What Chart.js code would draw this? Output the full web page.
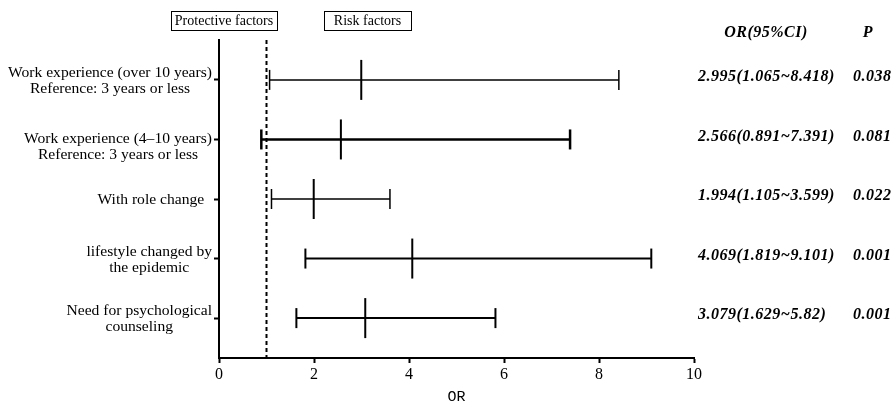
<!DOCTYPE html>
<html lang="en">
<head>
  <meta charset="UTF-8" />
  <title>Forest plot</title>
  <script src="https://cdn.jsdelivr.net/npm/chart.js"></script>
  <style>
    body { margin: 0; background: #fff; }
    canvas { display: block; }
  </style>
</head>
<body>
  <canvas id="grafica" width="893" height="407"></canvas>
  <script>
    // factors, top to bottom
    const factores = [
      ['Work experience (over 10 years)', 'Reference: 3 years or less'],
      ['Work experience (4\u201310 years)', 'Reference: 3 years or less'],
      ['With role change  '],
      ['lifestyle changed by', 'the epidemic'],
      ['Need for psychological', 'counseling']
    ];
    const orValor = [2.995, 2.566, 1.994, 4.069, 3.079];
    const ciBajo = [1.065, 0.891, 1.105, 1.819, 1.629];
    const ciAlto = [8.418, 7.391, 3.599, 9.101, 5.82];
    const textoCI = ['2.995(1.065~8.418)', '2.566(0.891~7.391)', '1.994(1.105~3.599)', '4.069(1.819~9.101)', '3.079(1.629~5.82)'];
    const valorP = ['0.038', '0.081', '0.022', '0.001', '0.001'];
    const ticksX = [0, 2, 4, 6, 8, 10];
    const lineaRef = 1;

    const grosor = [1.5, 2.5, 1.5, 2, 2];
    const serif = "'Liberation Serif', 'Times New Roman', serif";

    const datasets = factores.map((f, i) => ({
      type: 'line',
      data: [{ x: ciBajo[i], y: i + 1 }, { x: ciAlto[i], y: i + 1 }],
      borderColor: '#000',
      borderWidth: grosor[i],
      pointStyle: 'line',
      pointRotation: 90,
      pointRadius: 10,
      pointBorderWidth: grosor[i],
      pointBorderColor: '#000',
      clip: false
    }));
    datasets.push({
      type: 'scatter',
      data: orValor.map((v, i) => ({ x: v, y: i + 1 })),
      pointStyle: 'line',
      pointRotation: 90,
      pointRadius: 20,
      pointBorderWidth: 2,
      borderColor: '#000',
      clip: false
    });

    const textos = {
      id: 'textos',
      afterDraw(chart) {
        const ctx = chart.ctx;
        const x = chart.scales.x, y = chart.scales.y;
        const area = chart.chartArea;
        ctx.save();

        // reference line OR = 1
        ctx.strokeStyle = '#000';
        ctx.lineWidth = 2;
        ctx.setLineDash([4, 3]);
        ctx.beginPath();
        ctx.moveTo(x.getPixelForValue(lineaRef), area.top);
        ctx.lineTo(x.getPixelForValue(lineaRef), area.bottom);
        ctx.stroke();
        ctx.setLineDash([]);

        // left labels
        ctx.fillStyle = '#000';
        ctx.font = '15.6px ' + serif;
        ctx.textBaseline = 'middle';
        ctx.textAlign = 'center';
        factores.forEach((lineas, i) => {
          const py = y.getPixelForValue(i + 1) + (i === 1 ? 7 : 1);
          const ancho = Math.max(...lineas.map(l => ctx.measureText(l).width));
          const cx = area.left - 7 - ancho / 2;
          const alto = 16;
          const y0 = py - (lineas.length - 1) * alto / 2;
          lineas.forEach((l, j) => ctx.fillText(l, cx, y0 + j * alto));
        });

        // header boxes
        ctx.font = '14px ' + serif;
        ctx.lineWidth = 1;
        [['Protective factors', 171, 277], ['Risk factors', 324, 411]].forEach(([t, a, b]) => {
          ctx.strokeRect(a + 0.5, 11.5, b - a, 19);
          ctx.fillText(t, (a + b) / 2, 21);
        });

        // right column
        ctx.font = 'bold italic 16px ' + serif;
        ctx.letterSpacing = '0.5px';
        ctx.fillText('OR(95%CI)', 766, 33);
        ctx.fillText('P', 868, 33);
        ctx.textAlign = 'left';
        textoCI.forEach((t, i) => {
          const py = y.getPixelForValue(i + 1) - 3;
          ctx.fillText(t, 698, py);
          ctx.fillText(valorP[i], 853, py);
        });
        ctx.restore();
      }
    };

    new Chart(document.getElementById('grafica'), {
      data: { datasets },
      options: {
        responsive: false,
        animation: false,
        layout: { padding: { left: 0, top: 40, right: 199, bottom: 0 } },
        plugins: { legend: { display: false }, tooltip: { enabled: false } },
        scales: {
          x: {
            type: 'linear',
            min: 0,
            max: 10,
            afterBuildTicks: s => { s.ticks = ticksX.map(v => ({ value: v })); },
            afterFit: s => { s.height = 49; },
            ticks: { color: '#000', font: { family: serif, size: 16 }, padding: 2 },
            grid: { drawOnChartArea: false, tickLength: 5, tickColor: '#000', tickWidth: 2 },
            border: { color: '#000', width: 2 },
            title: { display: true, text: 'OR', color: '#000', font: { family: "'Liberation Mono', monospace", size: 15 }, padding: { top: 0, bottom: 1 } }
          },
          y: {
            type: 'linear',
            reverse: true,
            min: 0.33,
            max: 5.67,
            afterBuildTicks: s => { s.ticks = factores.map((f, i) => ({ value: i + 1 })); },
            afterFit: s => { s.width = 219; },
            ticks: { display: false },
            grid: { drawOnChartArea: false, tickLength: 5, tickColor: '#000', tickWidth: 2 },
            border: { color: '#000', width: 2 }
          }
        }
      },
      plugins: [textos]
    });
  </script>
</body>
</html>
